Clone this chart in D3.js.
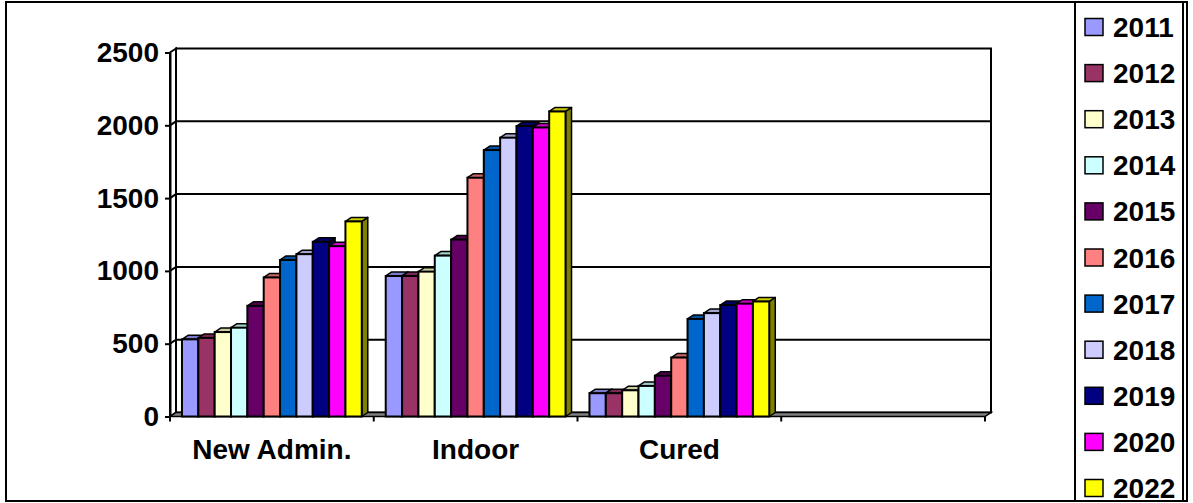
<!DOCTYPE html>
<html>
<head>
<meta charset="utf-8">
<script src="https://cdn.jsdelivr.net/npm/d3@7"></script>
<style>
  body { margin: 0; background: #fff; }
  svg text { font-family: "Liberation Sans", Arial, sans-serif; font-weight: bold; fill: #000; }
</style>
</head>
<body>
<svg id="chart" width="1193" height="503"></svg>
<script>
'use strict';
// data
var categories = ['New Admin.', 'Indoor', 'Cured', ''];
var years = ['2011', '2012', '2013', '2014', '2015', '2016', '2017', '2018', '2019', '2020', '2022'];
var newAdmin = [530, 540, 580, 610, 760, 955, 1075, 1115, 1200, 1170, 1340];
var indoor   = [965, 965, 995, 1105, 1215, 1640, 1830, 1915, 1995, 1985, 2095];
var cured    = [160, 160, 180, 210, 280, 405, 670, 710, 765, 775, 790];
var empty    = [];
var yTicks = [0, 500, 1000, 1500, 2000, 2500];
var colors = ['#9999FF', '#993366', '#FFFFCC', '#CCFFFF', '#660066', '#FF8080',
              '#0066CC', '#CCCCFF', '#000080', '#FF00FF', '#FFFF00'];

var series = [newAdmin, indoor, cured, empty];

var svg = d3.select('#chart');
var dx = 6, dy = -4;           // depth offset of the 3d box
var plotLeft = 170, plotRight = 985, plotTop = 52.5, plotBottom = 416.5;

var yScale = d3.scaleLinear().domain([0, 2500]).range([plotBottom, plotTop]);
var x0 = d3.scaleBand().domain(categories).range([plotLeft, plotRight])
    .paddingInner(0.1175).paddingOuter(0.0588);
var x1 = d3.scaleBand().domain(years).range([0, x0.bandwidth()]);
var color = d3.scaleOrdinal().domain(years).range(colors);

function shade(c, k) {
    var r = d3.rgb(c);
    return d3.rgb(r.r * k, r.g * k, r.b * k).formatHex();
}
function poly(pts) { return 'M' + pts.map(function(p) { return p.join(','); }).join('L') + 'Z'; }

// outer border
svg.append('rect').attr('x', 6).attr('y', 2).attr('width', 1181).attr('height', 499)
    .attr('fill', 'none').attr('stroke', '#000').attr('stroke-width', 2);

var g = svg.append('g');

// back wall
g.append('rect')
    .attr('x', plotLeft + dx).attr('y', plotTop + dy)
    .attr('width', plotRight - plotLeft).attr('height', plotBottom - plotTop)
    .attr('fill', '#fff').attr('stroke', '#000').attr('stroke-width', 2);
// left wall
g.append('path')
    .attr('d', poly([[plotLeft, plotTop], [plotLeft + dx, plotTop + dy], [plotLeft + dx, plotBottom + dy], [plotLeft, plotBottom]]))
    .attr('fill', '#fff').attr('stroke', '#000').attr('stroke-width', 2);

// gridlines (left wall diagonal + back wall)
yTicks.filter(function(v) { return v > 0 && v < 2500; }).forEach(function(v) {
    var y = yScale(v);
    g.append('path')
        .attr('d', 'M' + plotLeft + ',' + y + 'L' + (plotLeft + dx) + ',' + (y + dy) + 'L' + (plotRight + dx) + ',' + (y + dy))
        .attr('fill', 'none').attr('stroke', '#000').attr('stroke-width', 2);
});

// floor
g.append('path')
    .attr('d', poly([[plotLeft, plotBottom], [plotLeft + dx, plotBottom + dy], [plotRight + dx, plotBottom + dy], [plotRight, plotBottom]]))
    .attr('fill', '#808080').attr('stroke', '#000').attr('stroke-width', 1.5);

// bars
series.forEach(function(vals, ci) {
    var cg = g.append('g').attr('transform', 'translate(' + x0(categories[ci]) + ',0)');
    vals.forEach(function(v, i) {
        var xa = x1(years[i]), xb = xa + x1.bandwidth(), yt = yScale(v);
        var c = color(years[i]);
        var bar = cg.append('g');
        bar.append('path')
            .attr('d', poly([[xb, yt], [xb + dx, yt + dy], [xb + dx, plotBottom + dy], [xb, plotBottom]]))
            .attr('fill', shade(c, 0.5)).attr('stroke', '#000').attr('stroke-width', 1.5)
            .attr('stroke-linejoin', 'round');
        bar.append('path')
            .attr('d', poly([[xa, yt], [xa + dx, yt + dy], [xb + dx, yt + dy], [xb, yt]]))
            .attr('fill', shade(c, 0.8)).attr('stroke', '#000').attr('stroke-width', 1.5)
            .attr('stroke-linejoin', 'round');
        bar.append('rect')
            .attr('x', xa).attr('y', yt).attr('width', x1.bandwidth()).attr('height', plotBottom - yt)
            .attr('fill', c).attr('stroke', '#000').attr('stroke-width', 2);
    });
});

// value axis
var yAxis = g.append('g')
    .attr('transform', 'translate(' + plotLeft + ',0)')
    .call(d3.axisLeft(yScale).tickValues(yTicks).tickFormat(d3.format('d'))
        .tickSizeInner(5).tickSizeOuter(0).tickPadding(6));
yAxis.select('.domain').attr('stroke', '#000').attr('stroke-width', 2);
yAxis.selectAll('.tick line').attr('stroke', '#000').attr('stroke-width', 2);
yAxis.selectAll('.tick text').style('font-size', '28px').attr('fill', '#000');
yAxis.attr('font-family', null).attr('font-size', null);

// category axis ticks + labels
var edges = d3.range(categories.length + 1).map(function(k) { return plotLeft + k * x0.step(); });
g.selectAll('.ctick').data(edges).enter().append('line')
    .attr('x1', function(d) { return d; }).attr('x2', function(d) { return d; })
    .attr('y1', plotBottom).attr('y2', plotBottom + 5)
    .attr('stroke', '#000').attr('stroke-width', 2);
g.selectAll('.clabel').data(categories).enter().append('text')
    .attr('x', function(d) { return x0(d) + x0.bandwidth() / 2; })
    .attr('y', 459)
    .attr('text-anchor', 'middle')
    .style('font-size', '28px')
    .text(function(d) { return d; });

// legend
var lg = svg.append('g');
lg.append('rect').attr('x', 1075).attr('y', 2).attr('width', 108).attr('height', 499)
    .attr('fill', '#fff').attr('stroke', '#000').attr('stroke-width', 2);
var item = lg.selectAll('.item').data(years).enter().append('g')
    .attr('transform', function(d, i) { return 'translate(1085,' + (27 + i * 46.1) + ')'; });
item.append('rect').attr('x', 0).attr('y', -8.5).attr('width', 18).attr('height', 17)
    .attr('fill', function(d) { return color(d); }).attr('stroke', '#000').attr('stroke-width', 1.5);
item.append('text').attr('x', 28).attr('y', 10).style('font-size', '28px')
    .text(function(d) { return d; });
</script>
</body>
</html>
